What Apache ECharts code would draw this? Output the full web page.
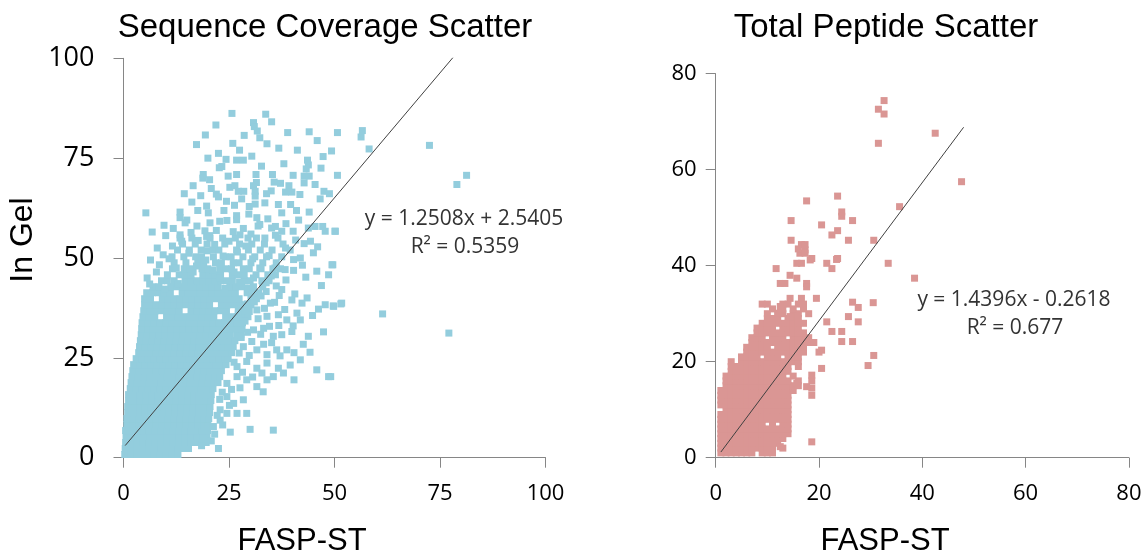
<!DOCTYPE html>
<html>
<head>
    <meta charset="utf-8">
    <title>Scatter</title>
    <script src="https://cdn.jsdelivr.net/npm/echarts@6/dist/echarts.min.js"></script>
    <style>
        html, body { margin: 0; padding: 0; background: #fff; }
    </style>
</head>
<body>
    <div id="main" style="width: 1147px;height:559px;"></div>
    <script type="text/javascript">
        var dom = document.getElementById('main');

        // ---- Sequence coverage (left): dense core by rows, then fringe and loose points
        var covRowY = [0.8, 2.3, 3.8, 5.3, 6.8, 8.3, 9.8, 11.3, 12.8, 14.3, 15.8, 17.3, 18.8, 20.3, 21.8, 23.3,
            24.8, 26.3, 27.8, 29.3, 30.8, 32.3, 33.8, 35.3, 36.8, 38.3, 39.8, 41.3, 42.8, 44.3, 45.8, 47.3,
            48.8, 50.3, 52, 53.5, 55];
        var covRowX = [
            [0.3, 1.7, 3.1, 4.5, 5.9, 7.3, 8.7, 10.1, 11.5, 12.9],
            [0.4, 1.8, 3.2, 4.6, 6, 7.4, 8.8, 10.2, 11.6, 13, 14.4, 15.4],
            [0.5, 1.9, 3.3, 4.7, 6.1, 7.5, 8.9, 10.3, 11.7, 13.1, 14.5, 15.9, 17.3, 18.7, 19.6],
            [0.6, 2, 3.4, 4.8, 6.2, 7.6, 9, 10.4, 11.8, 13.2, 14.6, 16, 17.4, 18.8, 19.8],
            [0.5, 1.9, 3.3, 4.7, 6.1, 7.5, 8.9, 10.3, 11.7, 13.1, 14.5, 15.9, 17.3, 18.7, 19.9],
            [0.8, 2.2, 3.6, 5, 6.4, 7.8, 9.2, 10.6, 12, 13.4, 14.8, 16.2, 17.6, 19, 20],
            [0.8, 2.2, 3.6, 5, 6.4, 7.8, 9.2, 10.6, 12, 13.4, 14.8, 16.2, 17.6, 19, 20.2],
            [1, 2.4, 3.8, 5.2, 6.6, 8, 9.4, 10.8, 12.2, 13.6, 15, 16.4, 17.8, 19.2, 20.4],
            [1, 2.4, 3.8, 5.2, 6.6, 8, 9.4, 10.8, 12.2, 13.6, 15, 16.4, 17.8, 19.2, 20.5],
            [1.2, 2.6, 4, 5.4, 6.8, 8.2, 9.6, 11, 12.4, 13.8, 15.2, 16.6, 18, 19.4, 20.7],
            [1.2, 2.6, 4, 5.4, 6.8, 8.2, 9.6, 11, 12.4, 13.8, 15.2, 16.6, 18, 19.4, 20.8],
            [1.6, 3, 4.4, 5.8, 7.2, 8.6, 10, 11.4, 12.8, 14.2, 15.6, 17, 18.4, 19.8, 21.2],
            [1.8, 3.2, 4.6, 6, 7.4, 8.8, 10.2, 11.6, 13, 14.4, 15.8, 17.2, 18.6, 20, 21.4, 22.4],
            [2, 3.4, 4.8, 6.2, 7.6, 9, 10.4, 11.8, 13.2, 14.6, 16, 17.4, 18.8, 20.2, 21.6, 22.8],
            [2.2, 3.6, 5, 6.4, 7.8, 9.2, 10.6, 12, 13.4, 14.8, 16.2, 17.6, 19, 20.4, 21.8, 23.2],
            [2.4, 3.8, 5.2, 6.6, 8, 9.4, 10.8, 12.2, 13.6, 15, 16.4, 17.8, 19.2, 20.6, 22, 23.4, 24.3],
            [3, 4.4, 5.8, 7.2, 8.6, 10, 11.4, 12.8, 14.2, 15.6, 17, 18.4, 19.8, 21.2, 22.6, 24, 24.8],
            [3.6, 5, 6.4, 7.8, 9.2, 10.6, 12, 13.4, 14.8, 16.2, 17.6, 19, 20.4, 21.8, 23.2, 24.6, 25.6],
            [3.8, 5.2, 6.6, 8, 9.4, 10.8, 12.2, 13.6, 15, 16.4, 17.8, 19.2, 20.6, 22, 23.4, 24.8, 26],
            [4, 5.4, 6.8, 8.2, 9.6, 11, 12.4, 13.8, 15.2, 16.6, 18, 19.4, 20.8, 22.2, 23.6, 25, 26.4],
            [4.2, 5.6, 7, 8.4, 9.8, 11.2, 12.6, 14, 15.4, 16.8, 18.2, 19.6, 21, 22.4, 23.8, 25.2, 26.8, 27.8],
            [4.3, 5.7, 7.1, 8.5, 9.9, 11.3, 12.7, 14.1, 15.5, 16.9, 18.3, 19.7, 21.1, 22.5, 23.9, 25.3, 26.7, 28.1],
            [4.4, 5.8, 7.2, 8.6, 10, 11.4, 12.8, 14.2, 15.6, 17, 18.4, 19.8, 21.2, 22.6, 24, 25.4, 26.8, 28.2],
            [4.6, 6, 7.4, 10.2, 11.6, 13, 14.4, 15.8, 17.2, 18.6, 20, 21.4, 24.2, 25.6, 27, 28.4, 29.5],
            [4.8, 6.2, 7.6, 9, 10.4, 11.8, 13.2, 16, 17.4, 18.8, 20.2, 21.6, 23, 24.4, 27.2, 28.6],
            [5, 6.4, 7.8, 9.2, 10.6, 12, 13.4, 14.8, 16.2, 17.6, 19, 20.4, 23.2, 24.6, 26, 27.4, 28.8, 30.2],
            [5, 6.4, 9.2, 10.6, 12, 13.4, 14.8, 16.2, 17.6, 19, 20.4, 21.8, 23.2, 24.6, 26, 27.4, 30.2, 31.5],
            [5.5, 6.9, 8.3, 9.7, 11.1, 13.9, 15.3, 16.7, 18.1, 19.5, 20.9, 22.3, 23.7, 25.1, 26.5, 29.3, 32],
            [7, 8.4, 11.2, 12.6, 14, 15.4, 16.8, 18.2, 19.6, 21, 22.4, 25.2, 26.6, 28, 30.8, 33],
            [9, 10.4, 12, 14.6, 16, 17.4, 18.8, 20.2, 21.6, 23, 24.4, 25.8, 28.6, 30, 32.8, 34.5],
            [10.4, 13.2, 14.6, 16, 18.8, 20.2, 21.6, 23, 25.8, 27.2, 28.6, 31.4, 34.2, 36],
            [11.6, 14.4, 15.8, 18.6, 20, 22.8, 24.2, 25.6, 28.4, 29.8, 32.6, 35.4, 37.2],
            [12, 14.8, 17.6, 19, 21.8, 23.2, 26, 27.4, 30.2, 33, 36.2],
            [11.5, 14.3, 17.1, 18.5, 21.3, 24.1, 25.5, 28.3, 31.1, 33.9, 37.5],
            [12.8, 15.6, 18.4, 21.2, 22.6, 26.8, 29.6, 32.4, 35.2, 39.5],
            [14, 17, 19.8, 24, 27.5, 30.4, 33.4, 37.8],
            [13.4, 16.2, 20.5, 23.5, 26.5, 29.5, 33.5, 36.6]
        ];
        var covFringe = [
            [6.2, 43.5], [9.8, 42.2], [5.6, 45], [7.8, 46.5], [8.5, 48.3], [6.4, 49.5], [9.4, 50.8], [13, 43.6],
            [16.5, 46.5], [17.3, 48], [19.5, 49.5], [21.2, 47], [22.8, 45], [24, 42.4], [26.2, 46.5], [27.5, 44],
            [29.4, 42.5], [30.8, 45], [32.3, 47.5], [33.8, 43.8], [35, 45.5], [36.2, 43], [38.5, 44.5], [12.5, 47.5],
            [10.8, 49.8], [15.5, 51.2], [19.8, 51.8], [23.6, 50.5], [27, 51.5], [30.6, 49.8], [34.5, 50.6], [29, 53],
            [25, 54.2], [21.6, 53.4], [17.7, 54.4], [11.6, 53], [8, 52.5], [31.5, 55], [38.4, 52.5], [40.8, 54.5],
            [46, 52.8], [6.8, 56.5], [9.6, 58.2], [11.8, 57.4], [15, 59.5], [17.4, 58], [22.8, 59.2], [28.4, 57.4],
            [30.2, 56], [34.2, 59.8], [38.5, 58.6], [41.5, 59.5], [16.2, 64], [18.3, 65.6], [20.8, 67.4], [24.4, 64.2],
            [28, 64.8], [35, 66.8], [37.2, 68.7], [25.2, 67.7], [20.4, 69.6], [38, 73.6], [41.2, 77], [46.8, 72.5],
            [47.3, 75.4], [36.8, 77.5], [34, 78.6], [27.5, 77], [20, 75], [19.4, 80.8], [45.9, 79.4],
            [27.2, 36], [28.8, 34.2], [29.8, 36.6], [31, 39], [32.6, 40.5], [33.8, 41.6], [30.5, 41.2], [29.3, 38.5],
            [31.9, 34.8], [33.4, 37.4], [35.8, 38.9], [36.9, 40.6], [38.2, 37.1], [40.6, 41], [43.5, 40], [44.8, 35.6],
            [40.2, 33], [36.8, 33.1], [34.6, 32.9], [32.5, 30.9], [29.4, 31.4], [27.9, 30.1], [30.4, 29.1], [33.2, 28.4],
            [35.1, 28.8], [37.1, 25.5], [40.4, 26.3], [42.6, 28.4], [27.4, 26.2], [29.8, 25.6], [26.2, 23.9], [28.2, 21.4],
            [30.6, 20.2], [32.8, 21.2], [33.1, 16.5], [27.6, 17.5], [25.6, 17.1], [23.4, 16.4], [22.8, 14.6], [25.1, 13.1],
            [22.2, 10.6], [21.6, 5.9], [20.8, 4.2], [23.5, 8.2], [44.2, 26.4], [47.4, 31.5], [46.9, 43.1], [43.2, 45.2],
            [40.3, 46.9], [42.4, 48.2]
        ];
        var covLoose = [
            [5.3, 61.3], [17.3, 78.4], [21.9, 83.3], [25.7, 86.2], [30.8, 83.9], [31, 82.9], [31.7, 81.8], [32.3, 80.1],
            [28.6, 80.7], [33.7, 86], [35.1, 84.1], [38.9, 81.4], [44, 81.6], [50.7, 81.4], [49.3, 76.8], [50.7, 70.7],
            [25.9, 78.7], [22.5, 76.2], [24.3, 74.7], [22.7, 72.6], [23.3, 72.9], [26.8, 74.5], [28.4, 74.5], [30.4, 75.5],
            [32.7, 73], [43.6, 74.5], [43.8, 73.3], [43.3, 72.3], [42.8, 70.5], [44, 70.5], [18.9, 70.9], [18.8, 70],
            [16.5, 68.1], [14.4, 66.1], [22, 66], [22.5, 65.3], [24.8, 70.5], [26.8, 70.9], [26.4, 68.1], [27.2, 66.7],
            [28.5, 66.7], [30.8, 68.1], [31.5, 68.9], [31.2, 66.7], [31.2, 65.5], [31.4, 70.9], [35.3, 70.9], [35.7, 69],
            [40.2, 70.7], [39.2, 68.1], [38.4, 66.5], [39.9, 66.5], [41.8, 65.9], [42.8, 68.8], [45.4, 68.4], [47.5, 66.7],
            [48.8, 66.1], [46.6, 64.8], [33.9, 66.1], [31.2, 63.5], [29.8, 62.9], [33.5, 63.8], [36.7, 63.4], [37.5, 61.3],
            [39.6, 63.4], [41, 61.9], [44, 61.5], [13.4, 61.5], [13.4, 60.1], [14.6, 58.8], [17.6, 61.9], [19.7, 63],
            [20.1, 61.3], [23.8, 61.9], [26.3, 63.2], [26.8, 60.6], [29.7, 61], [31.6, 60.1], [31.9, 58], [26.8, 59.6],
            [24.5, 59.4], [20.5, 58.8], [10, 55.6], [13.4, 55.8], [13.8, 54.2], [16, 56.4], [19.3, 56.8], [19.7, 55.4],
            [22, 56.9], [20.4, 55.6], [26, 56.6], [27.6, 55.8], [32.3, 58.4], [35.1, 57.5], [36, 57.9], [37.5, 56.7],
            [36, 55.7], [40.2, 56.7], [43.8, 57.5], [45.4, 57.9], [47.2, 57.9], [47.8, 56.7], [50.2, 56.7], [44.3, 54.2],
            [42.8, 53.6], [56.6, 81.9], [56.3, 80.3], [58.2, 77.3], [72.5, 78.2], [81.3, 70.7], [79, 68.4], [50.1, 56.7],
            [49.6, 48.3], [51.5, 38.5], [49.7, 38], [61.4, 36], [77.1, 31.2], [49.1, 20.3], [45, 51.3], [49.4, 48.3],
            [45.8, 46.7], [48.6, 45.8], [51.7, 38.7], [49.8, 37.9], [47.8, 38.3], [46.2, 37.2], [43.8, 30.4], [41.9, 24.5],
            [39.5, 23.2], [45.8, 22], [48.6, 20.3], [40.4, 19.5], [35.5, 6.9], [30, 7.1], [40.3, 49.6], [41.9, 50],
            [38.3, 47.1], [35.9, 47.5], [34.8, 38.7], [37.5, 42.1], [39.9, 39.5], [42.3, 38.7], [31.6, 37], [34, 35.4],
            [36.7, 35.8], [38.7, 34.5], [41.1, 36.2], [41.9, 34.5], [30.8, 32], [33.2, 32.4], [35.5, 30.4], [37.5, 30.8],
            [39.9, 31.6], [28.4, 27.8], [31.6, 27], [34, 25.8], [36.3, 27], [38.7, 27], [26.9, 22.8], [29.2, 24.1],
            [31.6, 22.4], [34, 23.7], [36.7, 22.4], [24.5, 18.6], [26.9, 20.3], [29.2, 19.5], [31.6, 17.8], [34, 19.5],
            [35.5, 20.3], [37.9, 21.2], [24.5, 15.3], [26.1, 13.6], [28.4, 14.5], [22.9, 12], [24.5, 11.1], [26.9, 11.1],
            [29.2, 11.1], [22.9, 9.4], [21.3, 7.8], [25.3, 6.4], [18.5, 3], [22.5, 2.3]
        ];
        var covFit = [1.2508, 2.5405];
        var covTrendX = [0.4, 81.3];
        var covTicks = [0, 25, 50, 75, 100];

        // ---- Total peptides (right): integer counts by rows, then loose points
        var pepRowY = [1, 2, 3, 4, 5, 6, 7, 8, 9, 10, 11, 12, 13, 14, 15, 16, 17, 18, 19, 20, 21, 22, 23, 24, 25, 26,
            27, 28, 29, 30, 31, 32];
        var pepRowX = [
            [1, 2, 3, 4, 5, 6, 7, 9, 10, 11],
            [1, 2, 3, 4, 5, 6, 7, 8, 9, 10, 11, 13],
            [1, 2, 3, 4, 5, 6, 7, 8, 9, 10, 11, 12],
            [1, 2, 3, 4, 5, 6, 7, 8, 9, 10, 11, 12, 13],
            [1, 2, 3, 4, 5, 6, 7, 8, 9, 10, 11, 12, 13, 14],
            [1, 2, 3, 4, 5, 6, 7, 8, 9, 10, 11, 12, 13, 14],
            [1, 2, 3, 4, 5, 6, 7, 8, 9, 11, 13, 14],
            [1, 2, 3, 4, 5, 6, 7, 8, 9, 10, 11, 12, 13, 14],
            [1, 2, 3, 4, 5, 6, 7, 8, 9, 10, 11, 12, 13, 14],
            [2, 3, 4, 5, 6, 7, 8, 9, 10, 11, 12, 13, 14],
            [1, 2, 3, 4, 5, 6, 7, 8, 9, 10, 11, 12, 13, 14],
            [1, 2, 3, 4, 5, 6, 7, 8, 9, 10, 11, 12, 13, 14],
            [1, 2, 3, 4, 5, 6, 7, 8, 9, 10, 11, 12, 13, 14],
            [1, 2, 3, 4, 5, 6, 7, 8, 9, 10, 11, 12, 13, 14, 15],
            [2, 3, 4, 5, 6, 7, 8, 9, 10, 11, 12, 13, 14, 15, 16],
            [2, 3, 4, 5, 6, 7, 8, 9, 10, 11, 12, 13, 14, 16],
            [2, 3, 4, 5, 6, 7, 8, 9, 10, 11, 12, 13, 15],
            [3, 4, 5, 6, 7, 8, 9, 10, 11, 12, 13, 14],
            [3, 4, 5, 6, 7, 8, 9, 10, 11, 12, 13, 14, 16],
            [3, 5, 6, 7, 8, 9, 10, 11, 12, 13, 14, 15, 16],
            [5, 6, 7, 8, 10, 11, 12, 14, 15, 16],
            [6, 7, 8, 9, 10, 11, 12, 13, 14, 15, 16, 17, 20],
            [6, 7, 8, 9, 10, 12, 13, 14, 15, 16, 17],
            [7, 8, 9, 10, 11, 12, 13, 14, 15, 16, 17, 18, 19],
            [7, 8, 9, 11, 12, 13, 15, 16, 17, 18],
            [8, 9, 10, 11, 12, 13, 14, 15, 16, 17],
            [8, 9, 10, 11, 13, 14, 15, 16],
            [9, 10, 11, 12, 13, 14, 15, 16, 17],
            [10, 11, 12, 14, 15, 16],
            [10, 12, 13, 15, 16, 18],
            [11, 13, 15, 17],
            [9, 10, 13, 14, 16, 17]
        ];
        var pepLoose = [
            [12.5, 31.5], [14.4, 33.2], [16.6, 33.2], [19.5, 33.2],
            [12.1, 30.1], [14.4, 29.4], [12.5, 36.3], [13.4, 36.3], [14.4, 38],
            [15.7, 37.4], [17.6, 36.3], [17.6, 35.6], [11.7, 39.4], [15.7, 40.5], [16.6, 40.5], [18.3, 41.2], [21.5, 40.5],
            [22.5, 39.4], [23.4, 41.3], [33.4, 40.5], [38.5, 37.4], [16.3, 42.6], [17.3, 43.3],
            [21.5, 28.3], [22.5, 26.3], [24.4, 26.3], [24.4, 24.2], [26.5, 24.2], [27.6, 28.3], [25.7, 29.4], [26.5, 32.4],
            [27.6, 31.3], [30.5, 32.3], [30.6, 21.3], [29.5, 19.2], [20.5, 22.4], [20.5, 18.6], [18.6, 13], [18.6, 14.5],
            [18.6, 16], [18.6, 17.2], [17.6, 14.8], [15.7, 15.5], [18.6, 3.3], [12.5, 2.3],
            [32.6, 74.4], [31.5, 72.6], [32.6, 71.6], [31.5, 65.5], [17.6, 53.5], [23.6, 54.5], [24.4, 51.2], [24.4, 50.3],
            [14.6, 49.4], [20.5, 48.5], [26.5, 49.4], [23.6, 47.3], [22.5, 46.4], [14.6, 45.3], [16.6, 44.4], [17.3, 44.4],
            [16, 43.5], [17.3, 42.6], [25.7, 45.3], [30.6, 45.3], [35.6, 52.3], [18.6, 41.5], [23.6, 41.5], [42.5, 67.6],
            [47.6, 57.5]
        ];
        var pepFit = [1.4396, -0.2618];
        var pepTrendX = [1, 48];
        var pepTicks = [0, 20, 40, 60, 80];

        function rowsToPoints(ys, xs, extra) {
            var pts = [];
            for (var i = 0; i < ys.length; i++) {
                for (var j = 0; j < xs[i].length; j++) {
                    pts.push([xs[i][j], ys[i]]);
                }
            }
            return pts.concat(extra);
        }
        function fitLine(fit, xr) {
            return xr.map(function (x) { return [x, fit[0] * x + fit[1]]; });
        }

        var covPoints = rowsToPoints(covRowY, covRowX, covFringe.concat(covLoose));
        var pepPoints = rowsToPoints(pepRowY, pepRowX, pepLoose);

        var axisGrey = '#868686';
        function valueAxis(idx, ticks, fontSize, margin) {
            return {
                type: 'value',
                gridIndex: idx,
                min: ticks[0],
                max: ticks[ticks.length - 1],
                interval: ticks[1] - ticks[0],
                axisLine: { show: true, lineStyle: { color: axisGrey, width: 1 } },
                axisTick: { show: true, length: 10, lineStyle: { color: axisGrey } },
                axisLabel: { fontSize: fontSize, fontFamily: 'Open Sans', color: '#000', margin: margin },
                splitLine: { show: false }
            };
        }
        function label(text, x, y, font, color, rot) {
            return {
                type: 'text', x: x, y: y, rotation: rot || 0,
                style: {
                    text: text, font: font, fill: color,
                    align: 'center', verticalAlign: 'middle',
                    textAlign: 'center', textVerticalAlign: 'middle'
                }
            };
        }

        var myChart = echarts.init(dom);

        var option = {
            animation: false,
            backgroundColor: '#fff',
            grid: [
                { left: 123.5, right: 601.5, top: 58.3, bottom: 101.3 },
                { left: 715.7, right: 18.1, top: 73.7, bottom: 101.3 }
            ],
            xAxis: [
                valueAxis(0, covTicks, 22, 25),
                valueAxis(1, pepTicks, 22, 25)
            ],
            yAxis: [
                valueAxis(0, covTicks, 27, 29),
                valueAxis(1, pepTicks, 22, 19)
            ],
            graphic: [
                label('Sequence Coverage Scatter', 325, 28, '33px "Liberation Sans"', '#000'),
                label('Total Peptide Scatter', 886, 28, '33px "Liberation Sans"', '#000'),
                label('In Gel', 23, 240, '32px "Liberation Sans"', '#000', Math.PI / 2),
                label('FASP-ST', 302, 541, '31px "Liberation Sans"', '#000'),
                label('FASP-ST', 885, 541, '31px "Liberation Sans"', '#000'),
                label('y = 1.2508x + 2.5405', 464, 219, '21px "Open Sans"', '#333'),
                label('R\u00b2 = 0.5359', 465, 247, '21px "Open Sans"', '#333'),
                label('y = 1.4396x - 0.2618', 1014, 300, '21px "Open Sans"', '#333'),
                label('R\u00b2 = 0.677', 1015, 328, '21px "Open Sans"', '#333')
            ],
            series: [
                {
                    type: 'scatter', xAxisIndex: 0, yAxisIndex: 0,
                    symbol: 'rect', symbolSize: 7,
                    itemStyle: { color: '#93CDDD', opacity: 1 },
                    silent: true,
                    data: covPoints
                },
                {
                    type: 'scatter', xAxisIndex: 1, yAxisIndex: 1,
                    symbol: 'rect', symbolSize: 7,
                    itemStyle: { color: '#DA9694', opacity: 1 },
                    silent: true,
                    data: pepPoints
                },
                {
                    type: 'line', xAxisIndex: 0, yAxisIndex: 0,
                    showSymbol: false, clip: true, silent: true,
                    lineStyle: { color: '#404040', width: 1 },
                    data: fitLine(covFit, covTrendX)
                },
                {
                    type: 'line', xAxisIndex: 1, yAxisIndex: 1,
                    showSymbol: false, clip: true, silent: true,
                    lineStyle: { color: '#404040', width: 1 },
                    data: fitLine(pepFit, pepTrendX)
                }
            ]
        };

        myChart.setOption(option);
    </script>
</body>
</html>
